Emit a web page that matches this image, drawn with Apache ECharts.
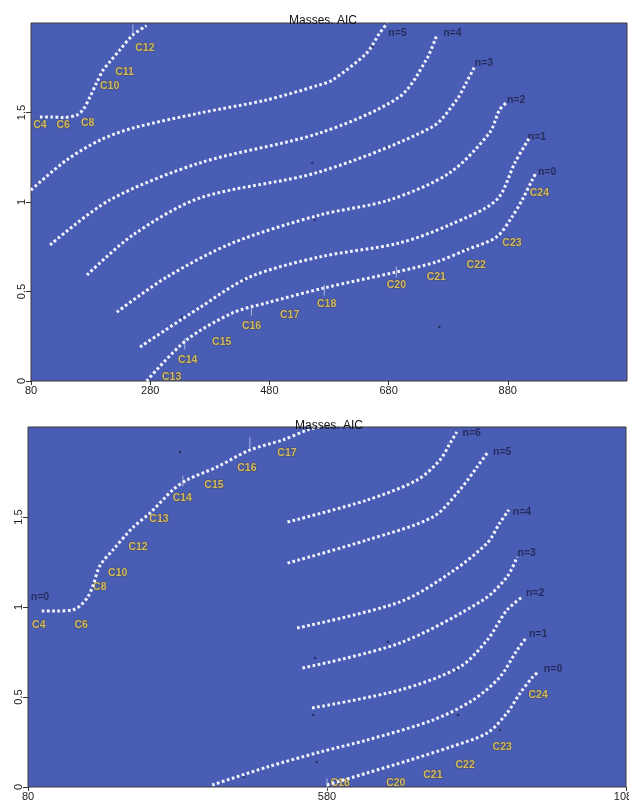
<!DOCTYPE html>
<html>
<head>
<meta charset="utf-8">
<script src="https://cdn.jsdelivr.net/npm/echarts@6/dist/echarts.min.js"></script>
<style>
  html, body { margin: 0; padding: 0; background: #ffffff; }
  #chart { width: 629px; height: 803px; }
</style>
</head>
<body>
<div id="chart"></div>
<script>
// ---- shared axis settings ----
const xRange = [80, 1080];
const yRange = [0, 2];
const upperXTicks = 200;
const lowerXTicks = 500;
const yTicks = 0.5;
const panelTitle = 'Masses. AIC';

// ---- upper panel: masses vs AIC, one curve per n ----
const upperCarbon = [[95,1.475],[115,1.475],[134,1.472],[157,1.486],[167,1.514],[179,1.587],[190,1.665],[201,1.737],[212,1.782],[229,1.849],[251,1.933],[274,1.985]];
const upperN5 = [[80,1.067],[140,1.235],[196,1.346],[251,1.413],[363,1.497],[475,1.570],[564,1.654],[586,1.682],[643,1.832],[665,1.944],[678,2.0]];
const upperN4 = [[112,0.760],[212,1.011],[363,1.218],[564,1.385],[698,1.587],[743,1.793],[760,1.925]];
const upperN3 = [[174,0.592],[251,0.816],[363,1.022],[564,1.168],[753,1.419],[794,1.570],[810,1.665],[824,1.754]];
const upperN2 = [[224,0.385],[308,0.581],[418,0.771],[564,0.927],[681,1.011],[782,1.162],[849,1.385],[866,1.514],[877,1.553]];
const upperN1 = [[263,0.190],[363,0.410],[447,0.581],[564,0.693],[698,0.771],[782,0.872],[861,1.011],[892,1.220],[916,1.358]];
const upperN0 = [[274,0.0],[341,0.229],[418,0.380],[475,0.436],[572,0.520],[693,0.609],[760,0.665],[810,0.732],[861,0.804],[887,0.916],[904,1.011],[921,1.123],[928,1.168]];

const upperCarbonNames = [[95,1.430,'C4'],[134,1.430,'C6'],[175,1.441,'C8'],[212,1.648,'C10'],[237,1.726,'C11'],[271,1.860,'C12'],
  [316,0.022,'C13'],[343,0.117,'C14'],[400,0.218,'C15'],[450,0.307,'C16'],[514,0.369,'C17'],[576,0.430,'C18'],
  [693,0.536,'C20'],[760,0.581,'C21'],[827,0.648,'C22'],[887,0.771,'C23'],[933,1.050,'C24']];
const upperNNames = [[695,1.944,'n=5'],[787,1.944,'n=4'],[840,1.777,'n=3'],[894,1.570,'n=2'],[929,1.363,'n=1'],[946,1.168,'n=0']];
const upperStray = [[552,1.218],[678,1.307],[653,1.866],[438,0.564],[333,0.358],[556,0.899],[559,0.687],[765,0.302],[810,0.732]];
const upperMarks = [[251,1.961],[338,0.207],[450,0.397],[572,0.508],[693,0.609]];

// ---- lower panel ----
const lowerCarbon = [[103,0.978],[128,0.978],[154,0.983],[167,1.006],[180,1.056],[189,1.122],[200,1.228],[222,1.317],[256,1.444],[284,1.522],[322,1.650],[346,1.706],[396,1.778],[451,1.872],[506,1.928],[547,1.983],[568,2.0]];
const lowerN6 = [[514,1.472],[647,1.594],[731,1.706],[769,1.817],[786,1.911],[797,1.972]];
const lowerN5 = [[514,1.244],[647,1.372],[757,1.500],[802,1.650],[831,1.778],[848,1.856]];
const lowerN4 = [[530,0.883],[702,1.028],[786,1.189],[848,1.356],[869,1.467],[884,1.540]];
const lowerN3 = [[539,0.661],[702,0.800],[841,1.039],[881,1.167],[898,1.278]];
const lowerN2 = [[555,0.439],[702,0.539],[802,0.667],[848,0.817],[881,0.983],[908,1.060]];
const lowerN1 = [[388,0.011],[480,0.111],[568,0.194],[647,0.261],[757,0.372],[824,0.483],[869,0.611],[898,0.761],[914,0.833]];
const lowerN0 = [[580,0.011],[647,0.078],[719,0.150],[786,0.222],[848,0.300],[881,0.411],[903,0.522],[924,0.611],[933,0.639]];

const lowerCarbonNames = [[98,0.900,'C4'],[169,0.900,'C6'],[200,1.111,'C8'],[230,1.189,'C10'],[264,1.333,'C12'],[299,1.489,'C13'],
  [338,1.606,'C14'],[391,1.678,'C15'],[446,1.772,'C16'],[513,1.856,'C17'],
  [602,0.022,'C18'],[695,0.022,'C20'],[757,0.067,'C21'],[811,0.122,'C22'],[873,0.222,'C23'],[933,0.511,'C24']];
const lowerNNames = [[100,1.056,'n=0'],[822,1.967,'n=6'],[873,1.861,'n=5'],[906,1.528,'n=4'],[914,1.300,'n=3'],[928,1.078,'n=2'],[933,0.850,'n=1'],[958,0.656,'n=0']];
const lowerStray = [[334,1.861],[557,0.400],[560,0.717],[563,0.139],[440,0.056],[682,0.806],[797,0.650],[799,0.400],[869,0.317]];
const lowerMarks = [[451,1.911],[339,1.700],[580,0.017]];

// ---- styling ----
const FONT = 'Liberation Sans, Arial, sans-serif';
const PLOT_BG = '#4a5db4';

function dottedCurve(data, panel) {
  return {
    type: 'line', data: data, xAxisIndex: panel, yAxisIndex: panel,
    smooth: 0.3, showSymbol: false, silent: true,
    lineStyle: { color: '#f4f6ff', width: 3, type: [2.7, 2.5], cap: 'butt' }
  };
}
function nameLabels(data, panel, color, border) {
  return {
    type: 'scatter', data: data, xAxisIndex: panel, yAxisIndex: panel,
    symbolSize: 0, silent: true, clip: false,
    label: {
      show: true, position: 'inside',
      formatter: p => p.data[2],
      color: color, fontFamily: FONT, fontWeight: 'bold', fontSize: 10.5,
      textBorderColor: border, textBorderWidth: border === 'transparent' ? 0 : 1.2
    }
  };
}
function strayPoints(data, panel) {
  return {
    type: 'scatter', data: data, xAxisIndex: panel, yAxisIndex: panel,
    symbol: 'rect', symbolSize: 2.2, silent: true,
    itemStyle: { color: '#1c2452' }
  };
}
// thin vertical ticks marking individual carbon masses on the curves
function massMarks(data, panel) {
  return {
    type: 'scatter', data: data, xAxisIndex: panel, yAxisIndex: panel,
    symbol: 'rect', symbolSize: [1, 11], silent: true,
    itemStyle: { color: 'rgba(235,240,255,0.75)' }
  };
}
function xAxisFor(panel, interval, hideMax) {
  return {
    type: 'value', gridIndex: panel, min: xRange[0], max: xRange[1], interval: interval,
    axisLine: { show: false },
    axisTick: { show: true, length: 4, lineStyle: { color: '#333' } },
    splitLine: { show: false },
    axisLabel: { color: '#222', fontFamily: FONT, fontSize: 11, margin: 4,
      showMaxLabel: !hideMax, showMinLabel: true, hideOverlap: false, formatter: v => String(v) }
  };
}
function yAxisFor(panel) {
  return {
    type: 'value', gridIndex: panel, min: yRange[0], max: yRange[1], interval: yTicks,
    axisLine: { show: false },
    axisTick: { show: true, length: 5, lineStyle: { color: '#333' } },
    splitLine: { show: false },
    axisLabel: { color: '#222', fontFamily: FONT, fontSize: 11, rotate: 90, margin: 4,
      showMaxLabel: false, formatter: v => String(v) }
  };
}

const chart = echarts.init(document.getElementById('chart'), null, { renderer: 'canvas' });
chart.setOption({
  backgroundColor: '#ffffff',
  animation: false,
  title: [
    { text: panelTitle, left: 284, top: 10, textStyle: { fontFamily: FONT, fontSize: 12, fontWeight: 'normal', color: '#111' } },
    { text: panelTitle, left: 290, top: 415, textStyle: { fontFamily: FONT, fontSize: 12, fontWeight: 'normal', color: '#111' } }
  ],
  grid: [
    { left: 31, top: 23, width: 596, height: 358, show: true, backgroundColor: PLOT_BG, borderColor: '#3d3d3d', borderWidth: 1,
      containLabel: false, outerBoundsMode: 'none' },
    { left: 28, top: 427, width: 598, height: 360, show: true, backgroundColor: PLOT_BG, borderColor: '#3d3d3d', borderWidth: 1,
      containLabel: false, outerBoundsMode: 'none' }
  ],
  xAxis: [ xAxisFor(0, upperXTicks, true), xAxisFor(1, lowerXTicks, false) ],
  yAxis: [ yAxisFor(0), yAxisFor(1) ],
  series: [
    dottedCurve(upperCarbon, 0), dottedCurve(upperN5, 0), dottedCurve(upperN4, 0), dottedCurve(upperN3, 0),
    dottedCurve(upperN2, 0), dottedCurve(upperN1, 0), dottedCurve(upperN0, 0),
    strayPoints(upperStray, 0), massMarks(upperMarks, 0),
    nameLabels(upperCarbonNames, 0, '#f1d56c', 'rgba(70,66,40,0.75)'),
    nameLabels(upperNNames, 0, '#1b2148', 'transparent'),
    dottedCurve(lowerCarbon, 1), dottedCurve(lowerN6, 1), dottedCurve(lowerN5, 1), dottedCurve(lowerN4, 1),
    dottedCurve(lowerN3, 1), dottedCurve(lowerN2, 1), dottedCurve(lowerN1, 1), dottedCurve(lowerN0, 1),
    strayPoints(lowerStray, 1), massMarks(lowerMarks, 1),
    nameLabels(lowerCarbonNames, 1, '#f1d56c', 'rgba(70,66,40,0.75)'),
    nameLabels(lowerNNames, 1, '#1b2148', 'transparent')
  ]
});
</script>
</body>
</html>
